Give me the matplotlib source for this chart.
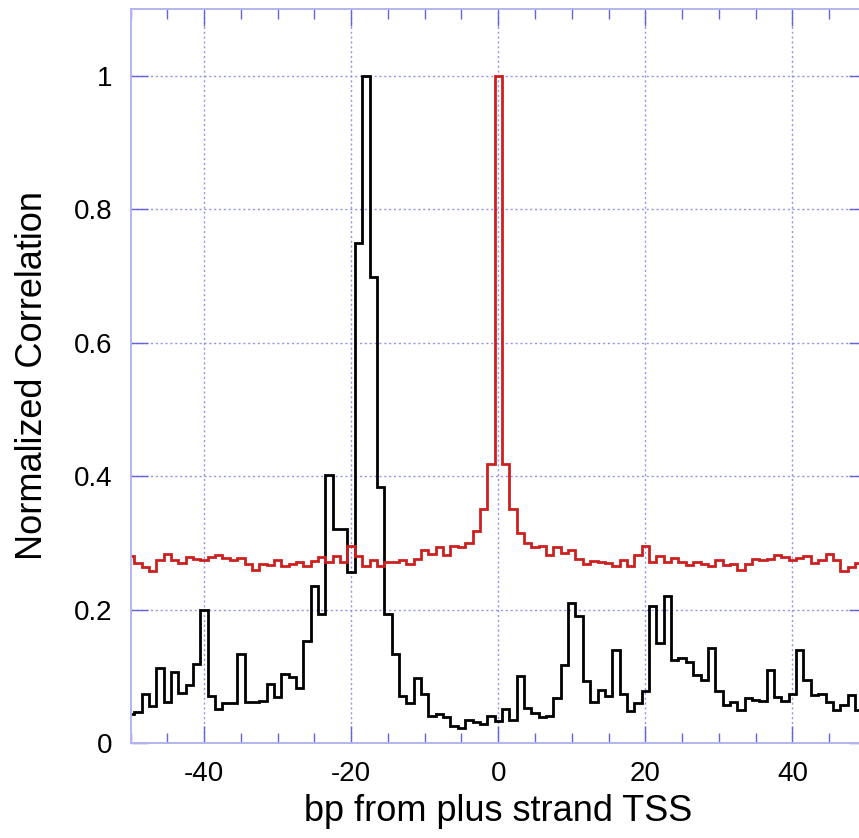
import numpy as np
import matplotlib
matplotlib.use("Agg")
import matplotlib.pyplot as plt
from matplotlib.ticker import MultipleLocator

# posições (bp a partir do TSS da fita +)
posicoes = list(range(-50, 50))

# correlação normalizada - curva preta
corr_preta = [
    0.044, 0.046, 0.073, 0.055, 0.113, 0.062, 0.106, 0.075, 0.087, 0.119,
    0.199, 0.070, 0.051, 0.060, 0.060, 0.134, 0.061, 0.061, 0.063, 0.088,
    0.069, 0.104, 0.099, 0.083, 0.153, 0.236, 0.193, 0.402, 0.320, 0.320,
    0.257, 0.750, 1.000, 0.698, 0.384, 0.194, 0.133, 0.070, 0.060, 0.097,
    0.074, 0.040, 0.044, 0.039, 0.025, 0.022, 0.035, 0.031, 0.028, 0.040,
    0.033, 0.051, 0.034, 0.101, 0.053, 0.045, 0.039, 0.040, 0.068, 0.117,
    0.210, 0.191, 0.093, 0.062, 0.079, 0.070, 0.139, 0.073, 0.048, 0.060,
    0.078, 0.205, 0.150, 0.221, 0.125, 0.128, 0.122, 0.102, 0.095, 0.143,
    0.078, 0.057, 0.062, 0.050, 0.067, 0.065, 0.063, 0.109, 0.069, 0.063,
    0.074, 0.140, 0.094, 0.072, 0.073, 0.061, 0.049, 0.057, 0.072, 0.049,
]

# correlação normalizada - curva vermelha
corr_vermelha = [
    0.280, 0.270, 0.264, 0.258, 0.274, 0.283, 0.275, 0.270, 0.279, 0.276,
    0.275, 0.278, 0.281, 0.277, 0.275, 0.277, 0.269, 0.259, 0.268, 0.267,
    0.274, 0.265, 0.268, 0.272, 0.266, 0.273, 0.278, 0.272, 0.280, 0.271,
    0.295, 0.280, 0.265, 0.274, 0.265, 0.271, 0.272, 0.274, 0.268, 0.276,
    0.289, 0.283, 0.294, 0.281, 0.295, 0.294, 0.300, 0.318, 0.350, 0.418,
    1.000, 0.418, 0.350, 0.315, 0.299, 0.293, 0.295, 0.281, 0.293, 0.284,
    0.289, 0.276, 0.268, 0.273, 0.272, 0.270, 0.265, 0.274, 0.266, 0.281,
    0.295, 0.272, 0.280, 0.272, 0.277, 0.272, 0.267, 0.272, 0.269, 0.265,
    0.274, 0.267, 0.268, 0.259, 0.268, 0.276, 0.275, 0.276, 0.282, 0.279,
    0.275, 0.277, 0.280, 0.270, 0.275, 0.283, 0.274, 0.258, 0.264, 0.270,
]

plt.rcParams['font.family'] = ['Liberation Sans', 'DejaVu Sans']
plt.rcParams['axes.unicode_minus'] = False  # hífen simples como no original

cor_eixo = '#b4b4f0'
cor_tick = '#6464d8'
cor_grade = '#8080e8'

fig = plt.figure(figsize=(8.59, 8.38), dpi=100)
# o eixo direito fica um pouco fora da figura (recorte do original)
ax = fig.add_axes([130.5 / 859, 95 / 838, 735.5 / 859, 734 / 838])

# bordas dos bins (largura 1, centrados nos inteiros)
bordas = np.arange(posicoes[0] - 0.5, posicoes[-1] + 1.0, 1.0)
ax.stairs(corr_preta, bordas, baseline=None, color='black', linewidth=2.0)
ax.stairs(corr_vermelha, bordas, baseline=None, color='#cc2020', linewidth=2.0)

ax.set_xlim(-50, 50)
ax.set_ylim(0, 1.1)

ax.xaxis.set_major_locator(MultipleLocator(20))
ax.xaxis.set_minor_locator(MultipleLocator(5))
ax.set_yticks([0, 0.2, 0.4, 0.6, 0.8, 1.0])
ax.set_yticklabels(['0', '0.2', '0.4', '0.6', '0.8', '1'])

ax.grid(True, which='major', linestyle=(0, (1.5, 2.0)), color=cor_grade,
        linewidth=1.0, alpha=0.85)
ax.set_axisbelow(True)

for s in ax.spines.values():
    s.set_color(cor_eixo)
    s.set_linewidth(1.4)

ax.tick_params(which='both', direction='in', top=True, right=True,
               color=cor_tick, labelsize=20, labelcolor='black')
ax.tick_params(which='major', length=12, width=1.0, pad=13)
ax.tick_params(which='minor', length=7, width=1.0)

ax.set_xlabel('bp from plus strand TSS', fontsize=26, labelpad=5)
ax.set_ylabel('Normalized Correlation', fontsize=26, labelpad=17)

fig.savefig('out.png', dpi=100)
